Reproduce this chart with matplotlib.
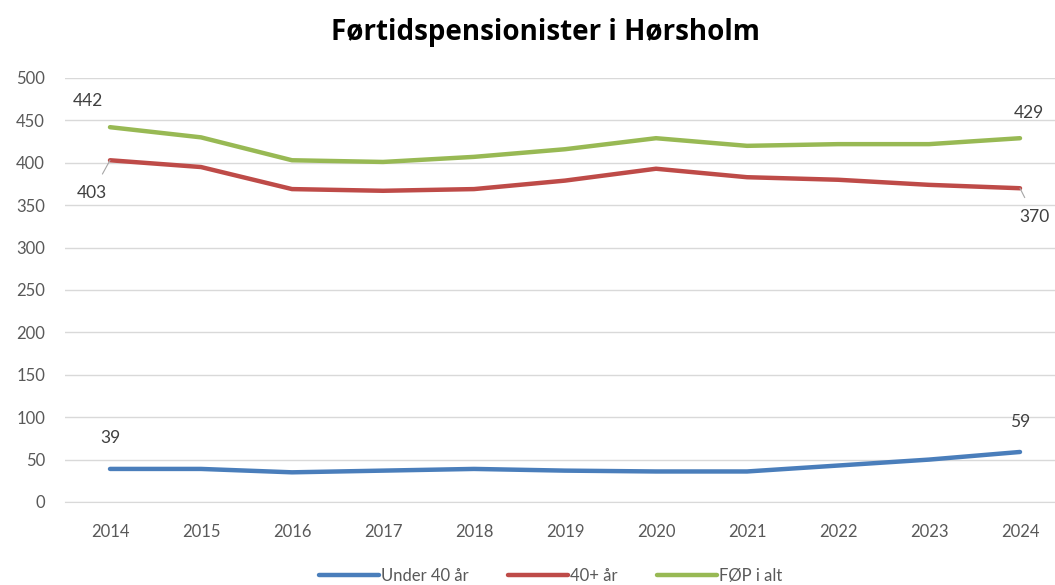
import matplotlib.pyplot as plt

years = ['2014', '2015', '2016', '2017', '2018', '2019', '2020', '2021', '2022', '2023', '2024']
under40 = [39, 39, 35, 37, 39, 37, 36, 36, 43, 50, 59]
over40 = [403, 395, 369, 367, 369, 379, 393, 383, 380, 374, 370]
total = [442, 430, 403, 401, 407, 416, 429, 420, 422, 422, 429]

plt.rcParams['font.family'] = ['Lato', 'DejaVu Sans']

fig = plt.figure(figsize=(10.55, 5.85), dpi=100)
# plot area runs past the right edge like in the original crop
ax = fig.add_axes([64.5 / 1055, 1 - 502 / 585, 1001 / 1055, 424 / 585])

x = list(range(len(years)))
ax.plot(x, under40, color='#4a7ebb', lw=3.2, solid_capstyle='round', label='Under 40 år')
ax.plot(x, over40, color='#be4b48', lw=3.2, solid_capstyle='round', label='40+ år')
ax.plot(x, total, color='#98b954', lw=3.2, solid_capstyle='round', label='FØP i alt')

ax.set_xlim(-0.5, len(years) - 0.5)
ax.set_ylim(0, 500)
ax.set_yticks(range(0, 501, 50))
ax.set_xticks(x)
ax.set_xticklabels(years)
ax.grid(axis='y', color='#d9d9d9', lw=1)
ax.set_axisbelow(True)
for s in ['top', 'right', 'left']:
    ax.spines[s].set_visible(False)
ax.spines['bottom'].set_color('#d9d9d9')
ax.tick_params(axis='both', length=0, labelsize=12, colors='#595959')
ax.tick_params(axis='y', pad=14)
ax.tick_params(axis='x', pad=16)

lab = dict(fontsize=12.5, color='#404040', ha='center', va='center')
ax.annotate(str(total[0]), (0, total[0]), xytext=(-0.24, 473), **lab)
ax.annotate(str(over40[0]), (0, over40[0]), xytext=(-0.2, 364), **lab,
            arrowprops=dict(arrowstyle='-', color='#a6a6a6', lw=0.8, shrinkA=7, shrinkB=0))
ax.annotate(str(total[-1]), (10, total[-1]), xytext=(10.1, 459), **lab)
ax.annotate(str(over40[-1]), (10, over40[-1]), xytext=(10.16, 336), **lab,
            arrowprops=dict(arrowstyle='-', color='#a6a6a6', lw=0.8, shrinkA=7, shrinkB=0))
ax.annotate(str(under40[0]), (0, under40[0]), xytext=(0, 76), **lab)
ax.annotate(str(under40[-1]), (10, under40[-1]), xytext=(10, 94), **lab)

fig.text(0.517, 0.945, 'Førtidspensionister i Hørsholm', ha='center', va='center',
         fontsize=20, fontweight='bold', color='black', family=['Open Sans', 'DejaVu Sans'])

fig.legend(loc='center', bbox_to_anchor=(0.522, 0.016), ncol=3, frameon=False,
           fontsize=12, handlelength=3.6, handletextpad=0.1, columnspacing=2.4,
           labelcolor='#595959')

fig.savefig('out.png', dpi=100)
